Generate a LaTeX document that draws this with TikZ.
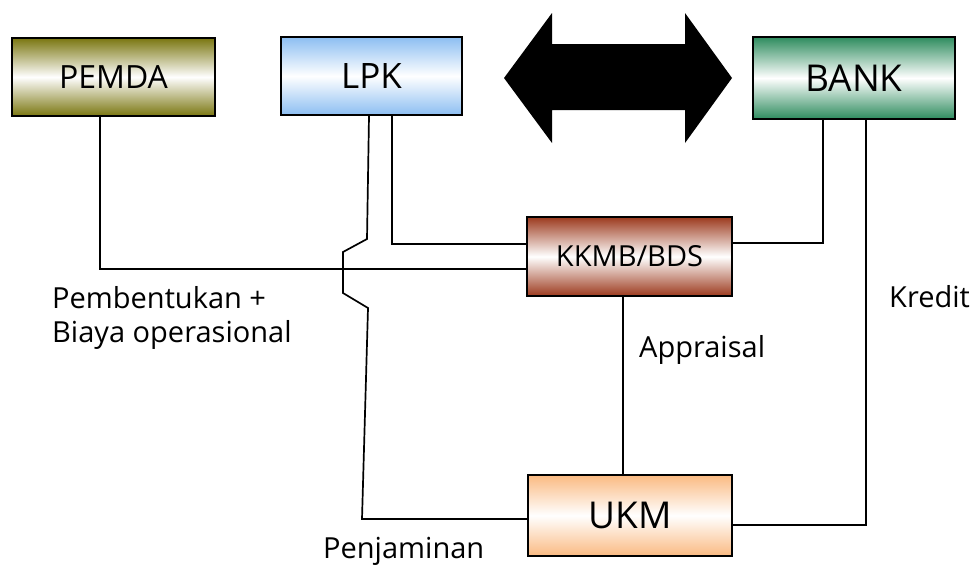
\documentclass[tikz,border=0pt]{standalone}
\usepackage{fontspec}
\setmainfont{Open Sans}
\definecolor{olivebox}{RGB}{122,118,16}
\definecolor{bluebox}{RGB}{140,190,242}
\definecolor{greenbox}{RGB}{46,140,94}
\definecolor{brownbox}{RGB}{156,58,30}
\definecolor{orangebox}{RGB}{250,186,130}
\begin{document}
\begin{tikzpicture}[x=1pt,y=-1pt,
  unit/.style={draw=black,line width=1.6pt,inner sep=0pt,
    top color=#1,bottom color=#1,middle color=white,font=\fontsize{32}{36}\selectfont},
  link/.style={draw=black,line width=1.7pt},
  caption/.style={anchor=base west,inner sep=0pt,align=left,
    font=\fontsize{29}{34}\selectfont}]
\useasboundingbox (0,0) rectangle (976,566);

% organisations
\node[unit=olivebox,minimum width=203pt,minimum height=78pt] (pemda) at (113.5,77) {PEMDA};
\node[unit=bluebox,minimum width=181pt,minimum height=78pt,font=\fontsize{35}{40}\selectfont] (lpk) at (371.5,76) {LPK};
\node[unit=greenbox,minimum width=202pt,minimum height=82pt,font=\fontsize{37}{42}\selectfont] (bank) at (854,78) {BANK};
\node[unit=brownbox,minimum width=205pt,minimum height=79pt,font=\fontsize{29}{34}\selectfont] (kkmb) at (629.5,256.5) {KKMB/BDS};
\node[unit=orangebox,minimum width=204pt,minimum height=81pt,font=\fontsize{37}{42}\selectfont] (ukm) at (630,515.5) {UKM};

% two-headed block arrow between LPK and BANK
\fill[black] (504,78) -- (552,13) -- (552,44) -- (685,44) -- (685,13) -- (732,78)
  -- (685,143) -- (685,110) -- (552,110) -- (552,143) -- cycle;

% bend points of the connectors
\coordinate (pm) at (100,269);
\coordinate (lk) at (392,244);
\coordinate (bk) at (823,243);
\coordinate (bu) at (866,525);
\coordinate (ku) at (623,0);
\coordinate (j0) at (369,0);
\coordinate (j1) at (367,239);
\coordinate (j2) at (343,252);
\coordinate (j3) at (343,293);
\coordinate (j4) at (368,308);
\coordinate (j5) at (362,519);

% connectors
\draw[link] (pemda.south -| pm) |- (kkmb.west |- pm);
\draw[link] (lpk.south -| lk) |- (kkmb.west |- lk);
\draw[link] (bank.south -| bk) |- (kkmb.east |- bk);
\draw[link] (bank.south -| bu) |- (ukm.east |- bu);
\draw[link] (kkmb.south -| ku) -- (ukm.north -| ku);
\draw[link,line join=miter] (lpk.south -| j0) -- (j1) -- (j2) -- (j3) -- (j4) -- (j5) -- (ukm.west |- j5);

% labels (base anchor of a two-line node sits on its last line)
\node[caption] (lbform) at (52,342) {Pembentukan +\\Biaya operasional};
\node[caption] (lbappr) at (639,357) {Appraisal};
\node[caption] (lbkred) at (889,307) {Kredit};
\node[caption] (lbjamin) at (323,558) {Penjaminan};
\end{tikzpicture}
\end{document}
